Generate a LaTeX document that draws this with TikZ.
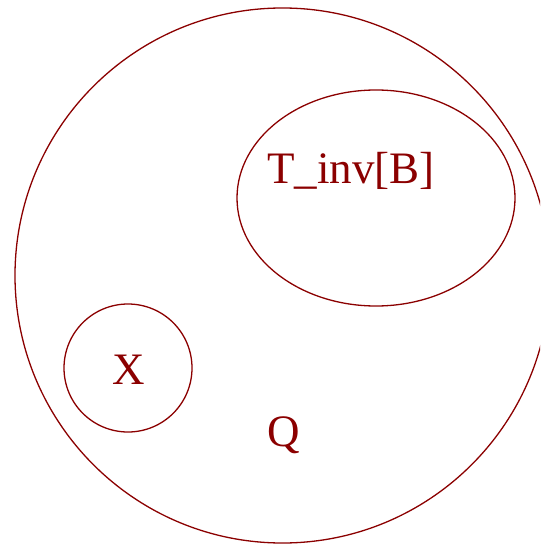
\documentclass[tikz,border=0pt]{standalone}
\usepackage{fontspec}
\setmainfont{Liberation Serif}
\usetikzlibrary{shapes.geometric}
\definecolor{dred}{HTML}{8B0000}
\begin{document}
\begin{tikzpicture}[x=1pt,y=-1pt,
  setline/.style={draw=dred, line width=1.3pt, inner sep=0pt, outer sep=0pt},
  lbl/.style={text=dred, font=\fontsize{45}{54}\selectfont, inner sep=0pt, anchor=base}]
\useasboundingbox (0,0) rectangle (540,545);
\clip (0,0) rectangle (540,545);
\node[setline, circle, minimum size=535pt] (Q) at (282.5,275.5) {};
\node[setline, ellipse, minimum width=278pt, minimum height=216pt] (B) at (376,198) {};
\node[setline, circle, minimum size=128pt] (X) at (128,368) {};
\node[lbl] (tb) at (351,183.3) {T\_inv[B]};
\node[lbl] (tx) at (129,384.3) {X};
\node[lbl] (tq) at (283.5,446.5) {Q};
\end{tikzpicture}
\end{document}
